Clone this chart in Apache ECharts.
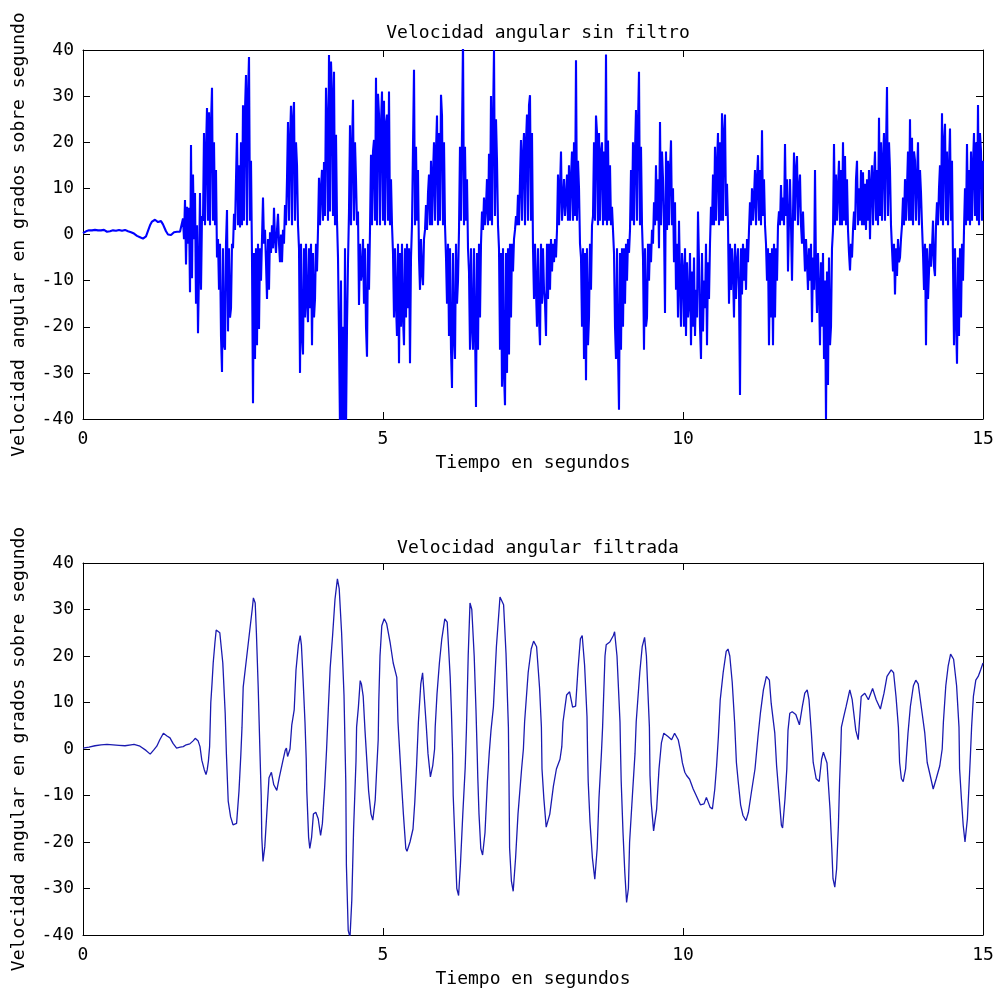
<!DOCTYPE html>
<html>
<head>
<meta charset="utf-8">
<script src="https://cdn.jsdelivr.net/npm/echarts@6/dist/echarts.min.js"></script>
<style>
html,body{margin:0;padding:0;background:#fff}
#chart{width:998px;height:998px}
</style>
</head>
<body>
<div id="chart"></div>
<script>
// textos
const titles = ['Velocidad angular sin filtro', 'Velocidad angular filtrada']
const xName = 'Tiempo en segundos'
const yName = 'Velocidad angular en grados sobre segundo'
const xRange = [0, 15]
const yRange = [-40, 40]

// señal sin filtro, una muestra cada 1/60 s, una fila por medio segundo
const rawStep = 1 / 60
const rawValues = [
  0.3,0.4,0.5,0.7,0.6,0.8,0.9,1.0,0.8,0.9,1.1,0.9,1.0,0.8,0.7,0.9,1.0,1.0,0.9,0.8,0.9,1.0,0.8,0.7,0.6,0.7,0.8,0.7,0.8,0.9,
  0.9,1.0,0.9,0.8,0.9,1.0,1.0,0.8,0.7,0.8,0.8,0.9,1.0,0.9,0.8,0.7,0.7,0.6,0.5,0.4,0.3,0.2,0.1,-0.1,-0.3,-0.4,-0.5,-0.6,-0.7,-0.8,
  -0.9,-1.0,-0.8,-0.4,0.2,0.8,1.4,2.0,2.4,2.8,3.0,2.6,3.2,2.8,3.1,2.7,3.0,2.6,2.9,2.5,2.2,1.8,1.2,0.7,0.3,0.0,-0.3,-0.3,-0.1,0.2,
  0.3,0.5,0.6,0.5,0.6,0.7,0.5,0.6,0.8,0.7,3.5,-1,7.5,-6.5,6,-2,5.8,-12.5,19.4,-9.5,13,-1,9,-15,2,-21.4,-8,9,-12,4,
  3,22,2,18,27.4,3,26.5,2,24,31.8,3,20,2,14,-5,-1,-12,-2,-22,-29.8,-3,-24,-25,-2,5.3,-21,-3,-18,-16,-2,
  -3,4.5,1,12,22,2,15,1.5,20,2,28,3,27,34.6,2,30,38.5,3,16,-5,-36.6,-4,-27,-3,-24,-2,-20.5,-3,-10,-1,
  8,-2,1,-6,-14,-1,-12,0.5,-4,2,-3,5.8,-1,-4,1,4.5,-2,-6,0,-6,1,-2,6.4,2,12,24.4,3,20,27.9,2,
  25,28.7,3,20,15,2,-3,-30,-2,-22,-26,-3,-18,-2,-15,-19,-3,-16,-2,-24,-4,-18,-14,-2,-8,1,12.3,2,10,14,
  3,15.7,4,31.8,24,3,38.9,5,37.5,30,4,35.3,2,21.6,3,-5,-22,-42,-10,-45,-20,-44,-3,-42,-20,-6,5,23.7,2,18,
  29.2,3,20,12,2,5,-15.3,-2,-10,-8,-1,-15,-3,-20,-26.5,-2,-12,1,17.3,2,18,20.5,3,34,2,30.5,26,2,24,31,
  3,29,2,24,26,3,31,2,12,2,-4,-18,-3,-15,-22,-2,-27.9,-4,-20,-2,-18,-24,-3,-18,-2,-16,-3,-27.9,-5,2,
  19,35.7,2,19,3,14,-5,-12,-1,-8,-11,-1,1,6.4,1,9,13,2,16,2,13,20,3,18,25.8,2,22,3,30.3,25.8,
  2,20,2,-5,-15,-2,-22,-3,-25,-33.3,-4,-22,-27,-2,-15,-10,1,19,3,22,42,2,19,3,12,-3,-8,-25,-3,-20,
  -25,-3,-20,-37.4,-4,-25,-2,-18,-2,5,1,8,2,6,12,2,17.5,3,30,2,24,40,4,25,16,2,-3,-25,-4,-33,
  -3,-30,-37,-4,-30,-3,-26,-2,-18,-2,-8,-1,1,4,2,8.6,2,12,20.5,3,17,22,2,20,26,3,28,30.2,3,22,
  -3,-14,-2,-12,-20,-3,-18,-24,-2,-15,-3,-12,-15,-22,-2,-14,-2,-12,-1,-8,-2,-6,-1,-5,1,13,2,10,18,3,
  3,12,4,8,13,3,15,3,12,18,3,20,4,37.8,3,16,10,-2,-5,-20,-3,-27,-4,-31.6,-3,-24,-18,-2,-12,2,
  4,20,3,25.8,22,2,22,3,18,20,2,18,3,39,2,20.4,3,15,2,6,1,-4,-20,-27,-3,-25,-38,-4,-25,-3,
  -20,-3,-15,-2,-10,-1,-4,1,14,3,20,2,18,27,3,24,35.3,2,19,2,-5,-25,-3,-20,-18,-2,-10,-2,-6,1,
  -2,7,2,15,3,12,-3,24.4,2,18,12,2,-17,18,1,16,2,14,20.4,2,10,-6,7,-12,-2,-18,3,-10,-20,-4,
  -8,-20,-3,-22,-6,-18,-15,-4,-24,-8,-20,-5,-22,-12,-18,5,-6,-20,-27,-4,-21,-10,-16,-2,-24,-6,-14,-2,6,2,
  13,2,19,3,15,22,2,20,3,26.3,3,22,26,4,11,2,-15,-2,-12,-3,-8,-18,-2,-14,-6,-3,-12,-34.8,-3,-13,
  -2,-10,-3,-12,-1,-6,1,7,2,10,3,8,14,2,12,17.2,3,14,2,22.6,4,12,2,-2,-10,-3,-24,-4,-18,-3,
  -24,-2,-18,-3,-10,2,5,2,10.7,3,8,2,19.6,4,12,-8,3,12,2,-10,4,17.8,3,14,17,2,10,13,2,-2,
  5,-2,-8,-1,-6,-12,-3,-10,-2,-19,-5,-12,14,-8,-17,-4,-12,-24,-6,-20,-4,-27,-10,-40,-8,-32.6,-5,-24,-20,-3,
  1,19.6,2,13,3,10,16,2,14,2,20,3,17,2,12,1,-4,-7.8,-2,-5,1,5,1,12,16,2,10,3,14,2,
  13.5,2,11,1,12,3,14,-1,11,15,2,12,18,3,14,2,25.3,4,20,3,16,22,3,18,32,4,20,14,2,-3,
  -8,-2,-13,-3,-9,-1,-6,-5,-1,2,8,2,12,3,10,18,3,25,3,21,2,18,16,3,12,20,2,14,9,2,
  -4,-12,-2,-24,-3,-14,-8,-2,-7,-3,3,-7,-9,2,7,2,10,15,3,26.3,2,20,24,3,18,2,14,23,3,16,
  -6,-24,-3,-18,-28,-5,-22,-3,-18,-2,-10,1,10,2,19.6,3,14,2,18,3,15,22,4,20,3,28.1,2,22,18,3,
  16
]

// señal filtrada [tiempo, valor]
const filtered = [
  [0,0.2],[0.1,0.4],[0.2,0.7],[0.3,0.9],[0.4,1.0],[0.5,0.9],[0.6,0.8],[0.7,0.7],[0.8,0.9],[0.85,1.0],
  [0.95,0.6],[1.05,-0.3],[1.12,-1.1],[1.18,-0.2],[1.23,0.6],[1.28,2.0],[1.34,3.4],[1.4,2.8],[1.45,2.4],[1.5,1.2],
  [1.56,0.2],[1.62,0.4],[1.67,0.5],[1.72,0.9],[1.78,1.1],[1.84,1.8],[1.87,2.3],[1.92,1.7],[1.95,0.5],[1.98,-2.4],
  [2.02,-4.4],[2.05,-5.5],[2.07,-4.5],[2.09,-2.6],[2.11,0.5],[2.13,10],[2.15,14],[2.17,18.5],[2.2,23],[2.22,25.6],
  [2.25,25.2],[2.28,25],[2.33,18.5],[2.37,7.7],[2.39,-1],[2.42,-11.2],[2.46,-14.6],[2.5,-16.3],[2.53,-16.5],[2.56,-16],
  [2.6,-9],[2.63,-1.4],[2.65,4.7],[2.67,13.3],[2.73,20],[2.78,25.6],[2.82,30],[2.84,32.5],[2.87,31.4],[2.89,25],
  [2.92,13.3],[2.95,-1],[2.97,-10],[2.98,-19],[3.0,-24.2],[3.03,-21],[3.06,-14.6],[3.1,-6.2],[3.14,-5],[3.18,-7.7],
  [3.23,-8.9],[3.27,-6.2],[3.33,-2.6],[3.37,-0.3],[3.39,0.2],[3.41,-1.6],[3.45,0],[3.48,5.2],[3.52,8.4],[3.55,17],
  [3.59,22.4],[3.62,24.4],[3.64,22.4],[3.67,14.4],[3.7,5.7],[3.72,-2],[3.73,-9],[3.76,-19],[3.78,-21.4],[3.81,-19],
  [3.84,-14],[3.88,-13.6],[3.92,-15],[3.96,-18.6],[3.99,-16],[4.03,-7.7],[4.06,0],[4.09,9],[4.12,17.5],[4.16,24.4],
  [4.2,32.2],[4.24,36.6],[4.27,34.5],[4.31,25],[4.35,11.6],[4.37,-1],[4.38,-7.2],[4.39,-25],[4.42,-39],[4.45,-40.5],
  [4.48,-32.5],[4.51,-17.2],[4.55,-2.6],[4.56,4.7],[4.59,9],[4.62,14.7],[4.64,14],[4.67,11.3],[4.7,4],[4.73,-2.4],
  [4.76,-9],[4.8,-14],[4.83,-15.3],[4.87,-11],[4.89,-5.7],[4.92,2],[4.93,10.3],[4.95,20],[4.98,26.5],[5.02,28],
  [5.06,27],[5.12,22.8],[5.17,18.5],[5.23,15.4],[5.25,5.8],[5.28,-1],[5.31,-7.7],[5.34,-14],[5.38,-21.4],[5.4,-22],
  [5.45,-20],[5.5,-17.2],[5.53,-11.4],[5.56,-3.5],[5.59,5.8],[5.63,14],[5.66,16.4],[5.68,12.7],[5.72,5.2],[5.75,-1],
  [5.79,-6],[5.83,-3.5],[5.86,0],[5.87,4.7],[5.9,11.8],[5.94,18.5],[5.98,23.7],[6.03,28],[6.07,27.3],[6.12,15.4],
  [6.14,8.2],[6.16,-1],[6.17,-10],[6.2,-20],[6.23,-30],[6.26,-31.5],[6.29,-25],[6.33,-14],[6.37,-4],[6.39,4],
  [6.42,20],[6.45,31.4],[6.48,30],[6.52,20],[6.55,8.3],[6.57,-1],[6.58,-6.2],[6.6,-14],[6.63,-21.4],[6.66,-22.8],
  [6.7,-18],[6.74,-7],[6.77,-1],[6.8,4],[6.84,9],[6.89,22],[6.95,32.7],[7.01,31],[7.05,20.6],[7.09,4.7],
  [7.1,-7],[7.11,-21.3],[7.14,-28.4],[7.17,-30.6],[7.21,-23.4],[7.25,-14],[7.31,-4.3],[7.34,0],[7.36,5.8],[7.42,16.5],
  [7.47,21.5],[7.51,23.2],[7.56,22],[7.61,13],[7.64,4.7],[7.65,-4.3],[7.68,-10.5],[7.72,-16.8],[7.78,-14],[7.84,-8],
  [7.89,-4.3],[7.95,-2.2],[7.98,0.5],[8.0,5.8],[8.06,11.6],[8.11,12.3],[8.16,9],[8.21,9.2],[8.25,17.2],[8.29,23.7],
  [8.32,24.4],[8.36,18],[8.4,7],[8.41,-1],[8.42,-7],[8.45,-15.7],[8.49,-23.4],[8.53,-28],[8.57,-21.3],[8.6,-10.5],
  [8.64,-1],[8.66,4.7],[8.7,20],[8.72,22.4],[8.78,23],[8.84,24.4],[8.86,25.2],[8.9,20],[8.95,5.8],[8.96,-1],
  [8.97,-7],[9.0,-17.9],[9.03,-26.5],[9.06,-33],[9.09,-30],[9.11,-20],[9.16,-9.3],[9.2,-1],[9.22,5.8],[9.28,16.5],
  [9.32,22],[9.36,24],[9.39,20],[9.44,4.7],[9.45,-5.7],[9.47,-11.5],[9.51,-17.6],[9.56,-13],[9.6,-4.3],[9.64,1.3],
  [9.68,3.4],[9.75,2.7],[9.81,2],[9.86,3.4],[9.92,2],[9.96,-0.5],[9.99,-3],[10.03,-5],[10.06,-5.7],[10.11,-6.5],
  [10.17,-8.6],[10.22,-10],[10.29,-12],[10.35,-11.8],[10.39,-10.4],[10.45,-12.5],[10.49,-12.9],[10.53,-8.6],[10.56,-3.6],[10.59,2.7],
  [10.62,10.5],[10.67,16.5],[10.72,21],[10.75,21.5],[10.78,20],[10.82,14.4],[10.86,5.8],[10.89,-2.9],[10.92,-7],[10.96,-12],
  [11.0,-14.3],[11.05,-15.4],[11.09,-13.6],[11.14,-9.3],[11.2,-4.3],[11.25,2.7],[11.29,7.7],[11.34,12.7],[11.39,15.6],[11.44,14.8],
  [11.47,9.8],[11.53,3.4],[11.56,-3.6],[11.6,-10],[11.64,-16.4],[11.66,-17],[11.7,-10.7],[11.73,-4.3],[11.75,4],[11.78,7.7],
  [11.82,8],[11.88,7.4],[11.94,5.2],[11.99,9.2],[12.03,12],[12.07,12.7],[12.1,10.6],[12.14,3.4],[12.17,-2.9],[12.22,-6.4],
  [12.27,-7],[12.31,-2.2],[12.34,-0.7],[12.37,-1],[12.4,-3],[12.42,-7],[12.45,-12.9],[12.48,-21.4],[12.5,-27.9],[12.53,-29.7],
  [12.56,-25.8],[12.59,-16.5],[12.61,-7],[12.63,0],[12.64,4.7],[12.68,7],[12.72,9.2],[12.78,12.7],[12.82,10.6],[12.88,4],
  [12.92,2],[12.97,11.3],[13.03,12],[13.09,10.6],[13.16,13],[13.22,10.6],[13.29,8.6],[13.35,12],[13.4,15.6],[13.47,17],
  [13.51,16.4],[13.55,11.3],[13.59,4.7],[13.61,-2.9],[13.64,-6.4],[13.67,-7],[13.71,-4.3],[13.75,3.4],[13.79,9.2],[13.84,13.6],
  [13.88,14.8],[13.92,14],[13.97,9.2],[14.03,3.4],[14.07,-2.9],[14.12,-5.7],[14.17,-8.6],[14.22,-6.4],[14.28,-3.6],[14.32,0],
  [14.34,5.8],[14.38,13.6],[14.42,17.9],[14.46,20.4],[14.51,19.3],[14.56,13.6],[14.6,4.7],[14.61,-4.3],[14.64,-10.7],[14.67,-16.4],
  [14.7,-20],[14.74,-15],[14.77,-7],[14.79,-1.4],[14.81,4.7],[14.84,11.3],[14.88,14.8],[14.92,15.6],[14.96,17],[15.0,18.5]
]

const rawData = rawValues.map((v, i) => [+(i * rawStep).toFixed(4), v])

const font = 'DejaVu Sans Mono'
const fontSize = 18
const black = '#000'

const grids = [
  {left: 83, top: 50, width: 900, height: 369},
  {left: 83, top: 563, width: 900, height: 372}
]

// ejes: abajo/izquierda con etiquetas, arriba/derecha solo marcas (caja)
function xAxes(g){
  let base = {
    type: 'value', gridIndex: g, min: xRange[0], max: xRange[1], interval: 5,
    axisLine: {show: true, onZero: false, lineStyle: {color: black, width: 1}},
    axisTick: {show: true, inside: true, length: 7, lineStyle: {color: black}},
    splitLine: {show: false}
  }
  return [
    Object.assign({}, base, {
      position: 'bottom',
      axisLabel: {color: black, fontFamily: font, fontSize: fontSize, margin: 11},
      name: xName, nameLocation: 'middle', nameGap: 35,
      nameTextStyle: {color: black, fontFamily: font, fontSize: fontSize}
    }),
    Object.assign({}, base, {position: 'top', axisLabel: {show: false}})
  ]
}
function yAxes(g){
  let base = {
    type: 'value', gridIndex: g, min: yRange[0], max: yRange[1], interval: 10,
    axisLine: {show: true, onZero: false, lineStyle: {color: black, width: 1}},
    axisTick: {show: true, inside: true, length: 7, lineStyle: {color: black}},
    splitLine: {show: false}
  }
  return [
    Object.assign({}, base, {
      position: 'left',
      axisLabel: {color: black, fontFamily: font, fontSize: fontSize, margin: 9},
      name: yName, nameLocation: 'middle', nameRotate: 90, nameGap: 55,
      nameTextStyle: {color: black, fontFamily: font, fontSize: fontSize}
    }),
    Object.assign({}, base, {position: 'right', axisLabel: {show: false}})
  ]
}

let chart = echarts.init(document.getElementById('chart'), null, {renderer: 'canvas'})
let option = {
  backgroundColor: '#fff',
  animation: false,
  title: [
    {text: titles[0], left: 533, top: 19, textAlign: 'center',
      textStyle: {color: black, fontFamily: font, fontSize: fontSize, fontWeight: 'normal'}},
    {text: titles[1], left: 533, top: 534, textAlign: 'center',
      textStyle: {color: black, fontFamily: font, fontSize: fontSize, fontWeight: 'normal'}}
  ],
  grid: grids,
  xAxis: xAxes(0).concat(xAxes(1)),
  yAxis: yAxes(0).concat(yAxes(1)),
  series: [
    {
      // algo mas gruesa para que el zigzag quede relleno como en la figura
      type: 'line', xAxisIndex: 0, yAxisIndex: 0, data: rawData,
      showSymbol: false, symbol: 'none', clip: true,
      lineStyle: {color: '#0000ff', width: 2.1}
    },
    {
      type: 'line', xAxisIndex: 2, yAxisIndex: 2, data: filtered,
      showSymbol: false, symbol: 'none', clip: true,
      lineStyle: {color: '#1a1ab0', width: 1.3}
    }
  ]
}
chart.setOption(option)
</script>
</body>
</html>
